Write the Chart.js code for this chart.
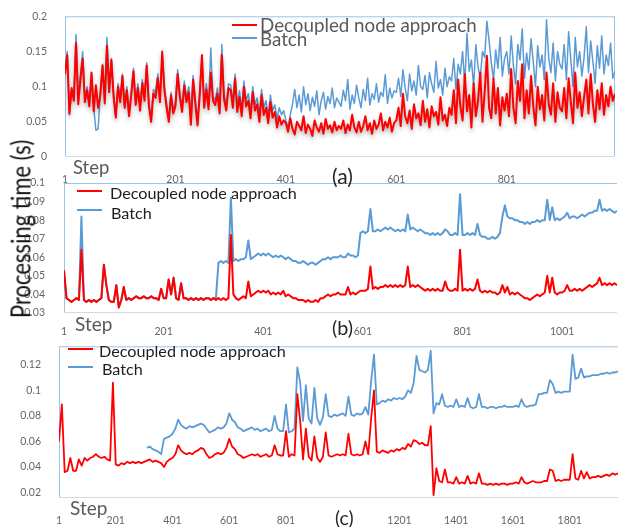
<!DOCTYPE html>
<html>
<head>
<meta charset="utf-8">
<script src="https://cdn.jsdelivr.net/npm/chart.js@4.4.1/dist/chart.umd.min.js"></script>
<style>
  body { margin: 0; background: #fff; }
  #wrap { position: relative; width: 618px; height: 527px; overflow: hidden; font-family: Lato, sans-serif; background: #fff; }
  canvas { position: absolute; left: 0; }
  .t { position: absolute; white-space: nowrap; line-height: 1; }
  .ln { position: absolute; height: 2px; }
</style>
</head>
<body>
<div id="wrap">
  <canvas id="chartA" width="618" height="185" style="top:0"></canvas>
  <canvas id="chartB" width="618" height="175" style="top:160px"></canvas>
  <canvas id="chartC" width="618" height="197" style="top:330px"></canvas>
</div>
<script>
// series names and axis text
const seriesNames = ['Decoupled node approach', 'Batch'];
const yTitle = 'Processing time (s)';
const xTitle = 'Step';
const panelNames = ['(a)', '(b)', '(c)'];

// x ticks (step numbers) and y ticks (seconds)
const xTicksA = [1, 201, 401, 601, 801];
const xTicksB = [1, 201, 401, 601, 801, 1001];
const xTicksC = [1, 201, 401, 601, 801, 1201, 1401, 1601, 1801];
const yTicksA = [0, 0.05, 0.1, 0.15, 0.2];
const yTicksB = [0.03, 0.04, 0.05, 0.06, 0.07, 0.08, 0.09, 0.1];
const yTicksC = [0.02, 0.04, 0.06, 0.08, 0.1, 0.12];

// sampling of the series: one value every N steps, starting at step 1
const stepA = 4, stepB = 5, stepC = 10;
const firstBatchC = 311; // batch curve in (c) visible from here on

// processing times in ms
const decoupledA = [
  118,145,62,98,80,162,75,110,140,78,95,72,120,65,102,70,88,130,76,158,92,138,85,56,100,
  78,115,70,95,58,88,122,74,98,66,105,80,130,72,50,90,84,112,78,150,95,70,50,88,62,
  72,118,85,64,102,78,92,46,110,76,45,88,145,70,96,68,120,80,74,90,62,145,82,66,98,
  95,70,112,64,85,58,100,72,80,55,92,66,75,50,88,60,70,48,78,56,64,42,58,46,52,
  48,36,55,40,32,50,44,38,58,34,46,40,30,52,42,36,48,33,54,40,45,35,50,38,44,
  40,52,34,46,38,60,42,35,50,36,44,58,38,48,33,52,40,46,62,38,50,42,56,36,48,
  52,70,44,90,58,48,66,40,75,55,62,45,80,50,68,42,72,58,64,46,85,52,60,44,70,
  60,95,48,110,72,52,118,65,88,42,105,58,80,120,50,92,144,70,55,112,62,98,45,85,66,
  90,58,125,70,48,108,80,132,55,95,62,115,72,45,100,68,88,52,120,75,60,105,50,92,70,
  65,98,55,112,78,48,120,70,92,58,85,110,62,118,75,50,95,68,105,60,88,72,100,80,90
];
const batchA = [
  122,150,60,96,84,174,80,116,150,82,100,76,118,70,38,40,92,132,80,170,96,140,90,58,104,
  82,118,74,100,60,92,126,78,104,70,110,86,134,76,54,96,90,118,84,146,100,76,54,92,66,
  78,124,90,70,108,84,100,50,116,82,48,96,140,76,104,74,155,86,80,98,68,160,90,72,104,
  102,78,118,72,94,66,108,80,90,64,100,74,84,60,96,70,80,58,88,66,74,54,70,60,66,
  52,42,60,75,96,70,88,64,100,74,90,66,85,72,94,60,80,92,68,86,76,98,70,84,78,
  72,95,80,110,68,88,76,102,84,70,96,80,112,74,90,82,104,78,92,86,117,76,98,84,94,
  92,112,86,124,98,80,118,94,108,88,130,100,96,116,84,120,104,92,136,98,110,88,126,100,114,
  108,140,96,132,118,150,104,176,122,138,100,160,128,112,150,142,193,165,134,110,152,126,170,115,140,
  150,118,172,130,104,160,138,182,112,148,124,168,135,100,158,128,145,110,195,140,120,162,108,150,132,
  125,160,110,178,138,100,170,128,150,115,142,185,120,165,135,105,158,126,172,118,145,130,162,112,122
];

const decoupledB = [
  53,38,37,36,37,38,37,64,37,36,37,36,37,36,37,38,56,45,37,36,
  36,45,33,37,44,37,38,37,38,39,38,38,39,38,38,39,38,38,37,43,
  38,38,48,40,49,38,37,46,38,38,37,38,37,38,37,38,37,38,38,37,
  38,37,38,37,38,37,38,72,40,38,37,38,39,38,47,39,40,41,42,41,
  42,41,42,40,41,40,41,40,42,39,40,39,38,38,37,37,37,36,37,36,
  36,37,36,38,38,39,40,39,40,40,41,40,40,40,44,40,41,40,41,42,
  42,42,43,55,43,44,43,44,44,45,44,45,44,45,44,45,44,45,55,44,
  45,44,45,44,43,42,43,42,43,42,43,42,42,47,43,42,42,43,42,64,
  42,43,42,43,42,43,48,42,41,42,41,42,41,41,40,41,45,41,44,40,
  41,40,41,40,39,38,38,37,38,39,40,39,40,41,50,41,49,41,40,41,
  41,42,45,42,42,43,42,43,42,43,44,45,44,45,46,49,45,46,45,46,
  45,46,45
];
const batchB = [
  53,38,37,36,37,38,37,82,37,36,37,36,37,36,37,38,56,45,37,36,
  36,45,33,37,44,37,38,37,38,39,38,38,39,38,38,39,38,38,37,43,
  38,38,48,40,49,38,37,46,38,38,37,38,37,38,37,38,37,38,38,37,
  38,38,57,58,57,58,57,92,58,59,58,59,59,60,69,59,60,61,62,61,
  62,61,62,61,60,61,60,61,60,59,60,59,58,58,57,57,58,57,56,57,
  57,56,57,58,59,59,60,59,60,60,60,61,60,60,62,61,61,60,61,73,
  74,73,74,86,74,74,75,74,75,76,75,76,75,74,75,74,75,74,83,75,
  76,75,74,75,74,73,73,72,73,72,73,72,73,75,74,72,72,73,72,94,
  72,72,73,72,73,72,78,72,71,71,70,70,71,70,71,73,82,88,82,81,
  81,80,80,79,79,78,79,78,79,79,80,79,80,80,91,80,87,80,81,80,
  81,82,84,81,82,82,81,82,83,82,83,84,84,85,85,91,85,86,85,86,
  85,84,85
];

const decoupledC = [
  60,89,36,37,47,37,37,46,41,47,
  45,47,48,50,48,47,48,46,45,106,
  42,41,43,42,44,43,44,43,44,43,
  44,45,46,44,45,44,43,40,44,46,
  47,50,57,53,51,50,51,50,52,53,
  55,54,50,47,48,50,51,50,51,55,
  62,56,54,50,49,47,48,49,50,49,
  50,48,49,50,48,49,57,50,49,49,
  68,48,50,49,97,76,46,70,48,45,
  64,47,44,48,67,49,48,49,50,49,
  50,49,66,50,49,50,49,50,60,50,
  78,100,52,51,53,52,51,53,52,54,
  53,55,54,58,56,61,60,58,59,57,
  57,72,18,39,29,28,38,28,28,27,
  32,27,28,27,33,27,28,27,35,27,
  27,26,27,26,27,26,27,27,26,27,
  27,28,27,32,28,27,28,29,28,28,
  28,29,29,38,37,29,30,29,30,30,
  30,50,31,30,37,31,36,31,32,32,
  33,32,33,34,33,35,34,35
];
const batchC = [
  55,56,54,53,52,50,62,63,64,
  66,70,77,73,71,70,72,71,72,73,
  74,73,70,67,68,69,71,70,71,74,
  82,77,75,71,70,68,69,70,71,69,
  70,68,69,70,68,69,80,70,68,68,
  89,67,68,70,118,106,76,104,78,74,
  102,78,73,79,97,80,79,81,80,81,
  82,80,95,81,80,82,81,82,87,81,
  107,128,89,90,92,91,93,92,94,93,
  94,93,95,100,98,106,127,116,115,114,
  116,131,82,90,89,97,88,87,88,87,
  93,87,88,87,94,87,86,87,97,87,
  87,86,87,87,86,87,87,88,87,87,
  87,88,87,93,88,87,88,88,89,97,
  97,98,98,108,105,98,99,98,99,99,
  99,128,109,110,117,110,111,111,112,112,
  112,113,113,114,113,114,114,115
];

const RED = '#ff0000', BLUE = '#5b9bd5', FRAME = '#9dc3e6', AXIS = '#d9d9d9';
Chart.defaults.font.family = 'Lato, sans-serif';

function pts(vals, first, every) {
  return vals.map((v, i) => ({ x: first + i * every, y: v / 1000 }));
}

// light frame lines round the plot area, like the original figure
const frame = {
  id: 'frame',
  beforeDatasetsDraw(chart, args, opts) {
    const { ctx, chartArea: a } = chart;
    const seg = (c, x1, y1, x2, y2) => {
      if (!c) return;
      ctx.strokeStyle = c;
      ctx.beginPath(); ctx.moveTo(x1, y1); ctx.lineTo(x2, y2); ctx.stroke();
    };
    ctx.save();
    ctx.lineWidth = 1;
    seg(opts.top, a.left, a.top + 0.5, a.right, a.top + 0.5);
    seg(opts.left, a.left + 0.5, a.top, a.left + 0.5, a.bottom);
    seg(opts.right, a.right - 0.5, a.top, a.right - 0.5, a.bottom);
    seg(opts.bottom, a.left, a.bottom - 0.5, a.right, a.bottom - 0.5);
    ctx.restore();
  }
};

// soft drop shadow under the red curve in (a)
const shadow = {
  id: 'shadow',
  beforeDatasetDraw(chart, args, opts) {
    if (!opts.on || args.index !== 0) return;
    const ctx = chart.ctx;
    ctx.save();
    ctx.shadowColor = 'rgba(0,0,0,0.3)';
    ctx.shadowBlur = 4;
    ctx.shadowOffsetY = 3;
  },
  afterDatasetDraw(chart, args, opts) {
    if (!opts.on || args.index !== 0) return;
    chart.ctx.restore();
  }
};

function panel(id, o) {
  const tickFont = { family: 'Lato, sans-serif', size: 10.5 };
  return new Chart(document.getElementById(id), {
    type: 'line',
    data: {
      datasets: [
        { data: o.red, borderColor: RED, borderWidth: o.rw, pointRadius: 0 },
        { data: o.blue, borderColor: BLUE, borderWidth: o.bw, pointRadius: 0 }
      ]
    },
    options: {
      responsive: false,
      animation: false,
      devicePixelRatio: 1,
      layout: { padding: { top: o.top, right: o.right, left: 0, bottom: 0 } },
      elements: { line: { tension: 0, borderJoinStyle: 'round' } },
      plugins: {
        legend: { display: false },
        tooltip: { enabled: false },
        frame: o.frame,
        shadow: { on: !!o.shadow }
      },
      scales: {
        x: {
          type: 'linear', min: o.xMin, max: o.xMax,
          grid: { display: false }, border: { display: false },
          afterFit: s => { s.height = o.xh; },
          afterBuildTicks: s => { s.ticks = o.xTicks.map(v => ({ value: v })); },
          ticks: { padding: o.xpad, color: '#666', font: tickFont, maxRotation: 0, autoSkip: false,
                   callback: v => String(v) }
        },
        y: {
          min: o.yMin, max: o.yMax,
          grid: { display: false }, border: { display: false },
          afterFit: s => { s.width = o.yw; },
          afterBuildTicks: s => { s.ticks = o.yTicks.map(v => ({ value: v })); },
          ticks: { padding: o.ypad, color: '#666', font: tickFont,
                   callback: v => String(+v.toFixed(3)) }
        }
      }
    },
    plugins: [frame, shadow]
  });
}

panel('chartA', {
  red: pts(decoupledA, 1, stepA), blue: pts(batchA, 1, stepA), rw: 2, bw: 1.5, shadow: true,
  top: 8, right: 3, xh: 28, yw: 65, xpad: 8, ypad: 10,
  xMin: 1, xMax: 997, xTicks: xTicksA, yMin: 0, yMax: 0.2, yTicks: yTicksA,
  frame: { top: FRAME, left: FRAME, right: FRAME, bottom: AXIS }
});
panel('chartB', {
  red: pts(decoupledB, 1, stepB), blue: pts(batchB, 1, stepB), rw: 2, bw: 2,
  top: 23, right: 1, xh: 22, yw: 64, xpad: 4, ypad: 11,
  xMin: 1, xMax: 1111, xTicks: xTicksB, yMin: 0.03, yMax: 0.1, yTicks: yTicksB,
  frame: { top: FRAME, left: FRAME, bottom: AXIS }
});
panel('chartC', {
  red: pts(decoupledC, 1, stepC), blue: pts(batchC, firstBatchC, stepC), rw: 1.8, bw: 1.8,
  top: 10, right: 0, xh: 29, yw: 59, xpad: 8, ypad: 10,
  xMin: 1, xMax: 1971, xTicks: xTicksC, yMin: 0.0157, yMax: 0.1345, yTicks: yTicksC,
  frame: { top: FRAME, left: FRAME, bottom: AXIS }
});

// ---- text overlays: legends, axis words, panel letters ----
const wrap = document.getElementById('wrap');
function text(str, left, midY, size, color, fitW, extra) {
  const el = document.createElement('div');
  el.className = 't';
  el.textContent = str;
  el.style.cssText = `left:${left}px;top:${midY}px;font-size:${size}px;color:${color};transform:${extra || 'translateY(-50%)'}`;
  wrap.appendChild(el);
  if (fitW) el.style.fontSize = (size * fitW / el.offsetWidth) + 'px';
  return el;
}
function swatch(left, y, color) {
  const el = document.createElement('div');
  el.className = 'ln';
  el.style.cssText = `left:${left}px;top:${y - 1}px;width:25px;background:${color}`;
  wrap.appendChild(el);
}
function legend(lx, ly1, ly2, tx1, tx2, ty1, ty2, w, color) {
  swatch(lx, ly1, RED);
  swatch(lx, ly2, BLUE);
  const a = text(seriesNames[0], tx1, ty1, 18, color, w);
  text(seriesNames[1], tx2, ty2, parseFloat(a.style.fontSize), color);
}

legend(232, 25, 38, 260, 260, 25, 39, 217, '#595959');
legend(77, 191, 210, 110, 111, 193, 213, 187, '#1e1e1e');
legend(68, 349, 367, 99, 102, 351, 369, 187, '#1e1e1e');

text(xTitle, 73, 167, 19, '#595959', 36);
text(xTitle, 75, 323, 19, '#595959', 37);
text(xTitle, 70, 507, 19, '#595959', 37);

text(panelNames[0], 332, 175, 16, '#262626', 21);
text(panelNames[1], 332, 328, 16, '#262626', 21);
text(panelNames[2], 335, 518, 16, '#262626', 18);

// y title: Calibri-like proportions, so keep the size and squeeze it to length
const yt = text(yTitle, 20, 229, 27, '#111');
const sq = 178 / yt.offsetWidth;
yt.style.transform = `translate(-50%,-50%) rotate(-90deg) scaleX(${sq})`;
</script>
</body>
</html>
